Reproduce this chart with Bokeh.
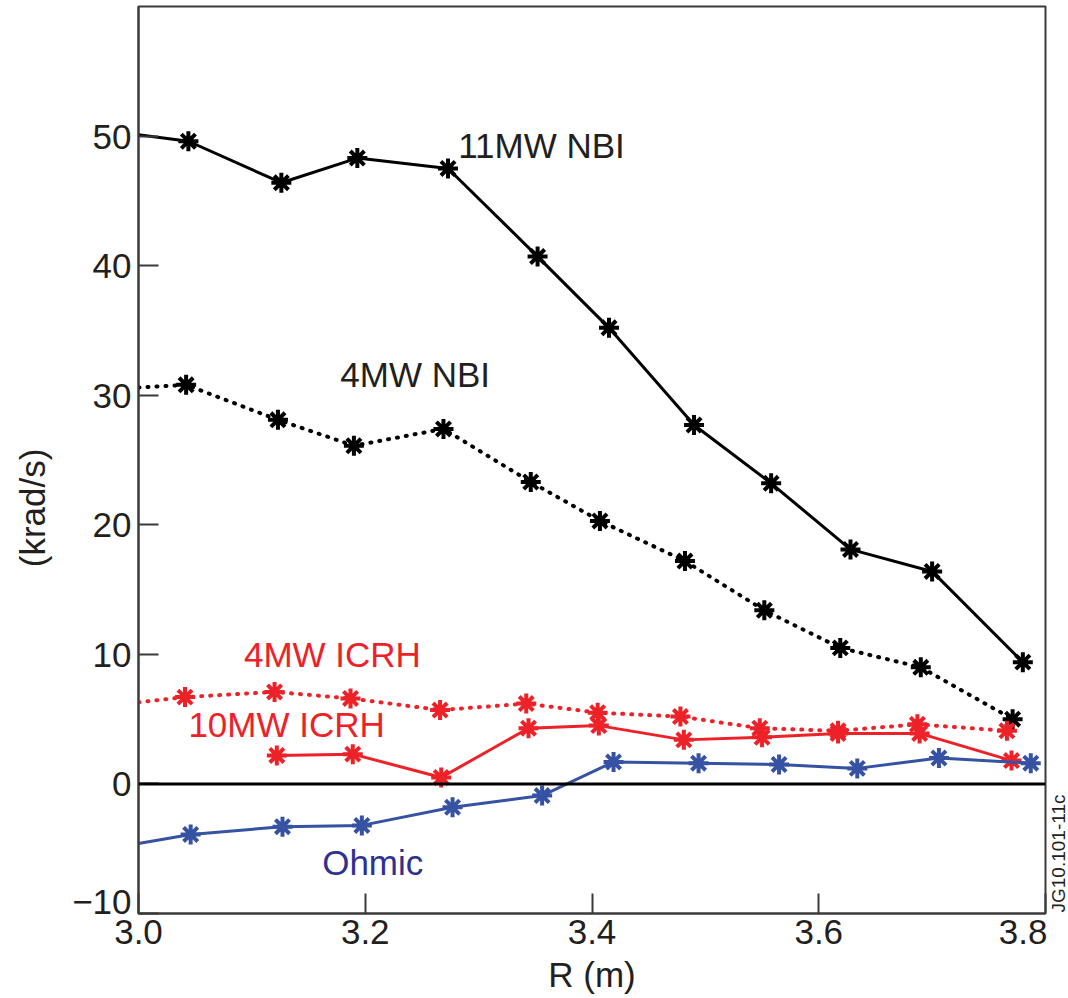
from math import pi
from bokeh.plotting import figure
from bokeh.layouts import row
from bokeh.models import Span, Label, FixedTicker
from bokeh.embed import file_html
from bokeh.resources import INLINE

# ---- data (first point of some series is the value at the left edge, no marker) ----
nbi11_r = [3.000, 3.044, 3.126, 3.193, 3.273, 3.352, 3.415, 3.490, 3.558, 3.628, 3.700, 3.780]
nbi11_v = [50.1, 49.6, 46.4, 48.3, 47.5, 40.7, 35.2, 27.7, 23.2, 18.1, 16.4, 9.4]

nbi4_r = [3.000, 3.042, 3.123, 3.190, 3.269, 3.346, 3.407, 3.482, 3.552, 3.619, 3.690, 3.771]
nbi4_v = [30.6, 30.8, 28.1, 26.1, 27.4, 23.3, 20.3, 17.2, 13.4, 10.5, 9.0, 5.0]

icrh4_r = [3.000, 3.041, 3.120, 3.187, 3.266, 3.342, 3.405, 3.478, 3.548, 3.617, 3.687, 3.766]
icrh4_v = [6.3, 6.7, 7.1, 6.6, 5.7, 6.2, 5.5, 5.2, 4.3, 4.1, 4.6, 4.1]

icrh10_r = [3.122, 3.189, 3.267, 3.344, 3.406, 3.481, 3.550, 3.617, 3.689, 3.770]
icrh10_v = [2.2, 2.3, 0.5, 4.3, 4.5, 3.4, 3.6, 3.9, 3.9, 1.8]

ohm_r = [3.000, 3.046, 3.127, 3.197, 3.277, 3.356, 3.419, 3.494, 3.565, 3.634, 3.706, 3.787]
ohm_v = [-4.6, -3.9, -3.3, -3.2, -1.8, -0.9, 1.7, 1.6, 1.5, 1.2, 2.0, 1.6]

x_ticks = [3.0, 3.2, 3.4, 3.6, 3.8]
x_tick_labels = ["3.0", "3.2", "3.4", "3.6", "3.8"]
y_ticks = [-10, 0, 10, 20, 30, 40, 50]
y_tick_labels = ["\u221210\n\u00a0", "0", "10", "20", "30", "40", "50"]

series_names = ["11MW NBI", "4MW NBI", "4MW ICRH", "10MW ICRH", "Ohmic"]
name_pos_r = [3.282, 3.178, 3.093, 3.044, 3.162]
name_pos_v = [49.3, 31.6, 10.0, 4.6, -6.1]

y_title = "(krad/s)"
fig_id = "JG10.101-11c"

BLACK = "#000000"
TXT = "#231f20"
RED = "#ed2228"
BLUE = "#3653a3"
BLUE_TXT = "#2e3192"
FONT = "Liberation Sans"
Y_RANGE = (-10, 60)

p = figure(width=987, height=998, x_range=(3.0, 3.8), y_range=Y_RANGE,
           output_backend="svg", toolbar_location=None,
           min_border_left=78, min_border_right=2, min_border_top=6, min_border_bottom=85)
p.background_fill_color = "white"
p.border_fill_color = "white"
p.outline_line_color = "#3a3a3a"
p.outline_line_width = 2
p.xgrid.visible = False
p.ygrid.visible = False

for ax, ticks, labels in ((p.xaxis[0], x_ticks, x_tick_labels), (p.yaxis[0], y_ticks, y_tick_labels)):
    ax.ticker = FixedTicker(ticks=ticks)
    ax.major_label_overrides = {t: l for t, l in zip(ticks, labels)}
    ax.major_tick_in = 20
    ax.major_tick_out = 0
    ax.minor_tick_line_color = None
    ax.major_tick_line_color = "#3a3a3a"
    ax.major_tick_line_width = 2
    ax.axis_line_color = "#3a3a3a"
    ax.axis_line_width = 2
    ax.major_label_text_font = FONT
    ax.major_label_text_font_size = "35px"
    ax.major_label_text_color = TXT

p.yaxis.major_label_text_line_height = 0.6
p.xaxis.major_label_standoff = 6
p.yaxis.major_label_standoff = 7
p.xaxis.axis_label = "R (m)"
p.xaxis.axis_label_text_font = FONT
p.xaxis.axis_label_text_font_size = "35px"
p.xaxis.axis_label_text_font_style = "normal"
p.xaxis.axis_label_text_color = TXT
p.xaxis.axis_label_standoff = 8

# zero line
p.add_layout(Span(location=0, dimension="width", line_color=BLACK, line_width=3))

DOT = "1 8"
MS = 20
MW = 4

# 11MW NBI
p.line(nbi11_r, nbi11_v, line_color=BLACK, line_width=3)
p.scatter(nbi11_r[1:], nbi11_v[1:], marker="asterisk", size=MS, line_color=BLACK, line_width=MW)
# 4MW NBI
p.line(nbi4_r, nbi4_v, line_color=BLACK, line_width=4, line_dash=DOT, line_cap="round")
p.scatter(nbi4_r[1:], nbi4_v[1:], marker="asterisk", size=MS, line_color=BLACK, line_width=MW)
# 4MW ICRH
p.line(icrh4_r, icrh4_v, line_color=RED, line_width=4, line_dash=DOT, line_cap="round")
p.scatter(icrh4_r[1:], icrh4_v[1:], marker="asterisk", size=MS, line_color=RED, line_width=MW)
# 10MW ICRH
p.line(icrh10_r, icrh10_v, line_color=RED, line_width=3)
p.scatter(icrh10_r, icrh10_v, marker="asterisk", size=MS, line_color=RED, line_width=MW)
# Ohmic
p.line(ohm_r, ohm_v, line_color=BLUE, line_width=3)
p.scatter(ohm_r[1:], ohm_v[1:], marker="asterisk", size=MS, line_color=BLUE, line_width=MW)

name_colors = [TXT, TXT, RED, RED, BLUE_TXT]
for name, r, v, c in zip(series_names, name_pos_r, name_pos_v, name_colors):
    p.add_layout(Label(x=r, y=v, text=name, text_color=c, text_font=FONT,
                       text_font_size="35px", text_align="left", text_baseline="middle"))


def strip(w):
    s = figure(width=w, height=998, x_range=(0, 1), y_range=Y_RANGE,
               output_backend="svg", toolbar_location=None, x_axis_type=None, y_axis_type=None,
               min_border=0, min_border_left=0, min_border_right=0,
               min_border_top=6, min_border_bottom=85)
    s.outline_line_color = None
    s.xgrid.visible = False
    s.ygrid.visible = False
    s.border_fill_color = "white"
    return s


# left strip with the y title, reading upwards
left = strip(60)
left.add_layout(Label(x=0.53, y=21.3, text=y_title, angle=pi / 2,
                      text_color=TXT, text_font=FONT, text_font_size="35px",
                      text_align="center", text_baseline="middle"))

# right strip with the figure id, reading upwards
right = strip(21)
right.add_layout(Label(x=0.52, y=-10, y_offset=1, text=fig_id, angle=pi / 2,
                       text_color=TXT, text_font=FONT, text_font_size="19px",
                       text_align="left", text_baseline="middle"))

layout = row(left, p, right, spacing=0)
open("out.html", "w").write(file_html(layout, INLINE))
